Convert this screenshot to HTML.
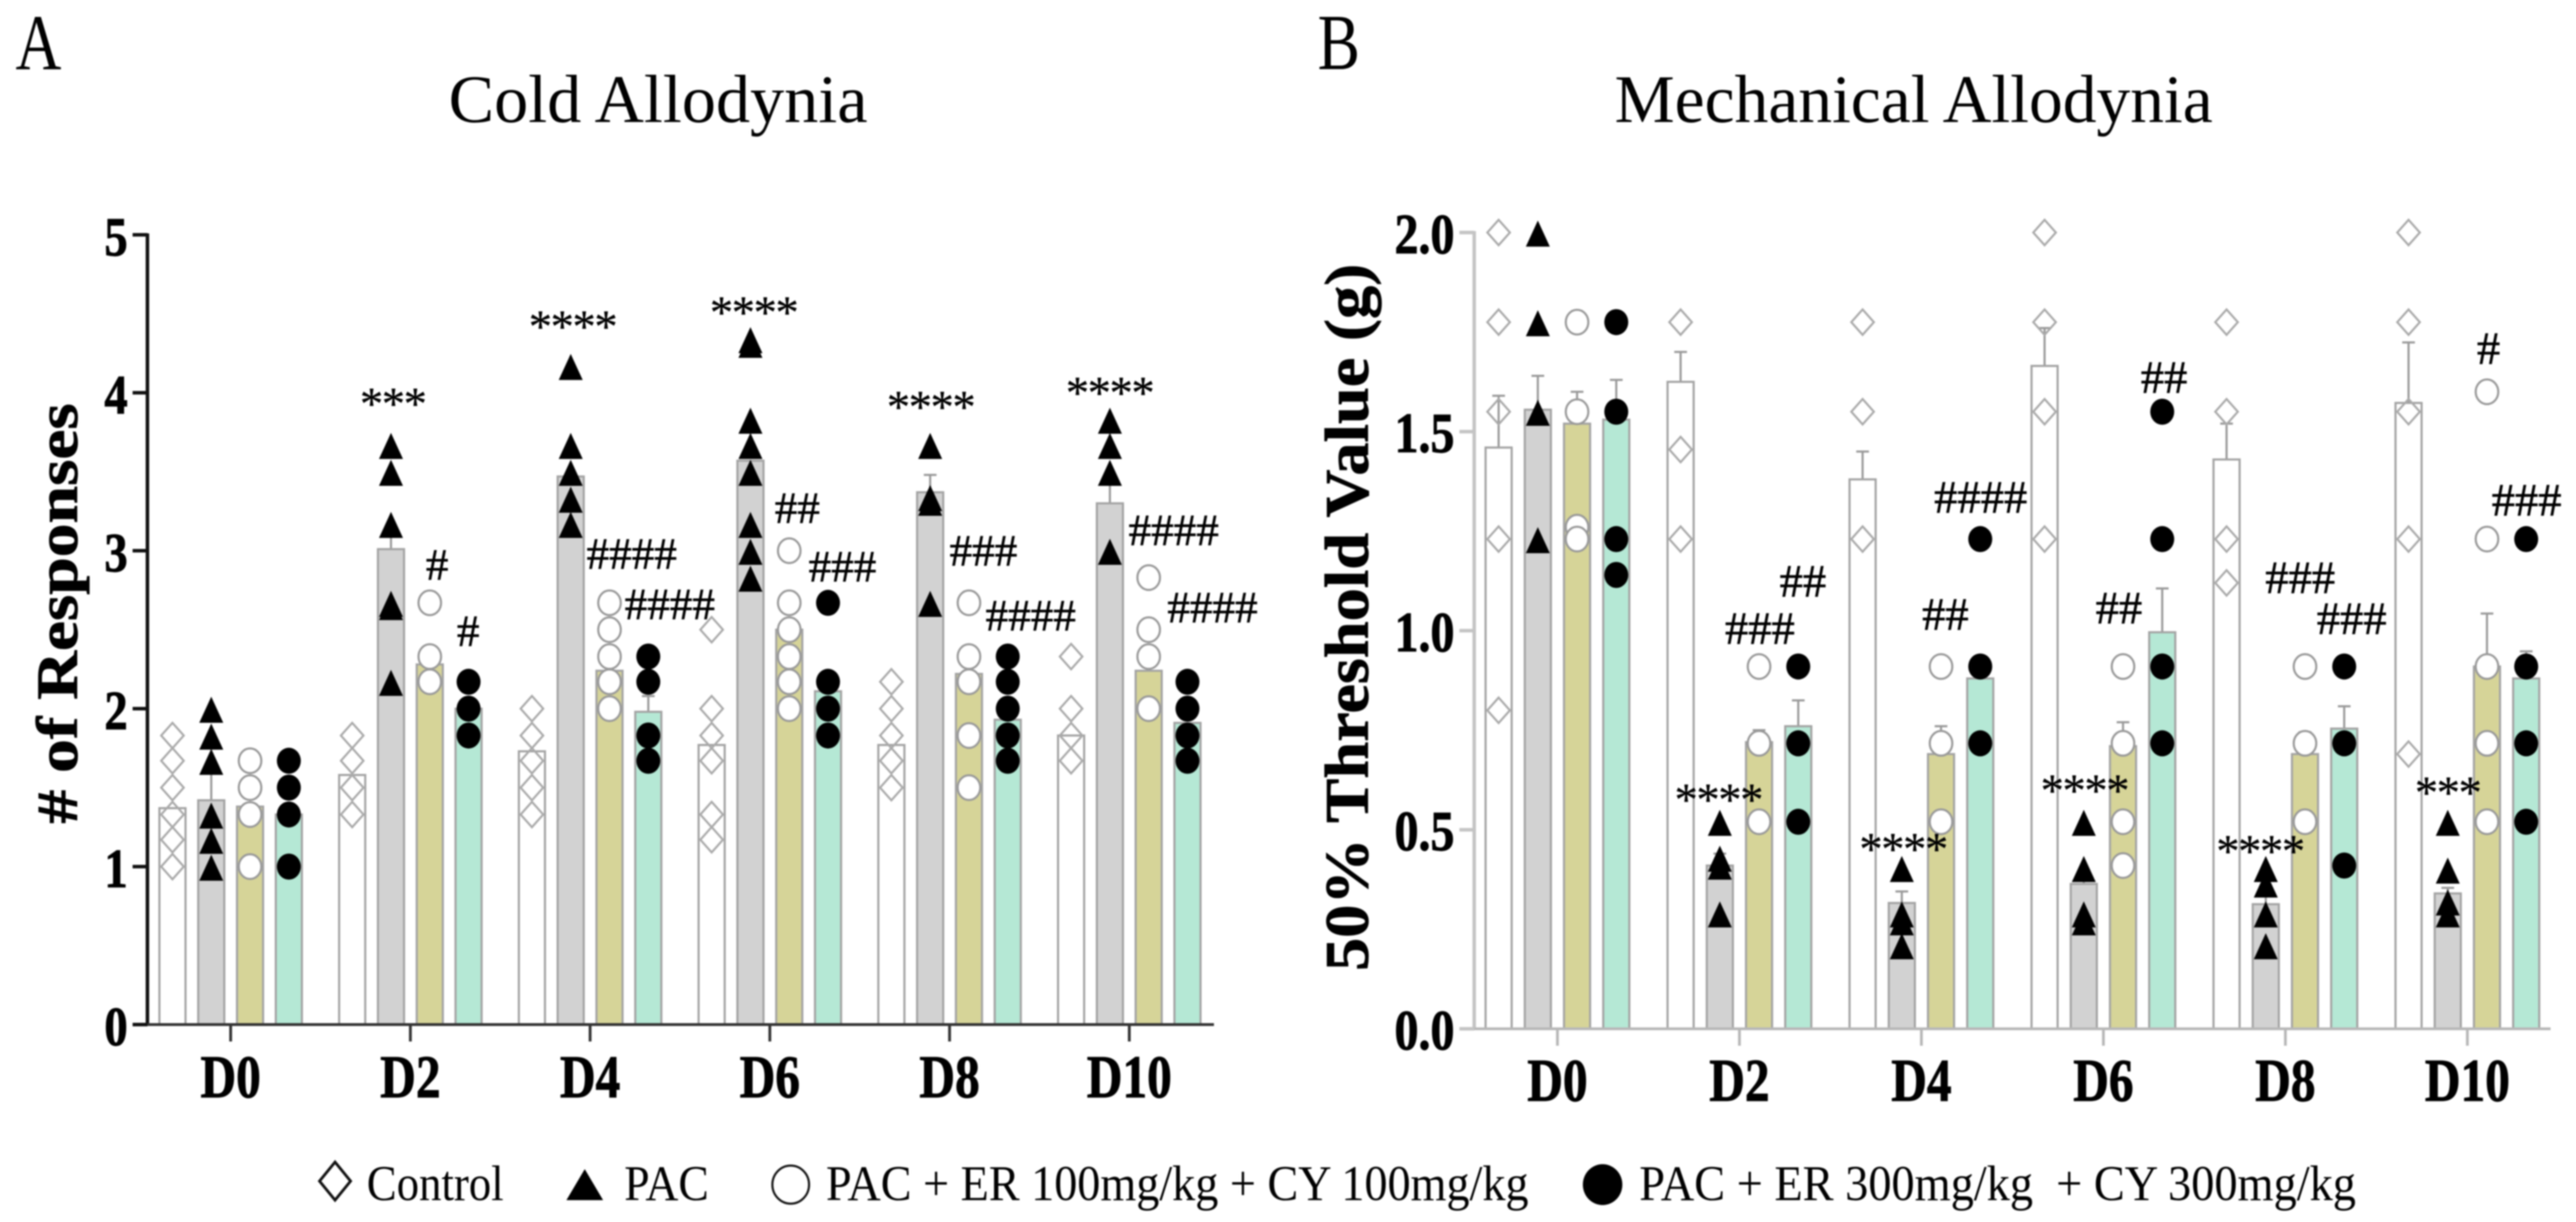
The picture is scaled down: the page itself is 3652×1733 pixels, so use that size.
<!DOCTYPE html>
<html>
<head>
<meta charset="utf-8">
<title>Cold and Mechanical Allodynia</title>
<style>
html,body{margin:0;padding:0;background:#fff;}
svg{display:block;filter:blur(1px);}
text{font-family:"Liberation Serif",serif;fill:#000;white-space:pre;}
</style>
</head>
<body>
<svg id="figure" xmlns="http://www.w3.org/2000/svg" width="3652" height="1733" viewBox="0 0 3652 1733">
  <rect x="0" y="0" width="3652" height="1733" fill="#ffffff"/>
  <text transform="translate(22,98) scale(1,1.25)" font-size="90">A</text>
  <text transform="translate(1868,98) scale(1,1.25)" font-size="90">B</text>
  <text x="636" y="173" font-size="96" textLength="594" lengthAdjust="spacingAndGlyphs">Cold Allodynia</text>
  <text x="2289" y="173" font-size="96" textLength="848" lengthAdjust="spacingAndGlyphs">Mechanical Allodynia</text>
  <text transform="translate(109,1168) rotate(-90)" font-size="83" font-weight="bold" stroke="#000" stroke-width="1" textLength="596" lengthAdjust="spacingAndGlyphs"># of Responses</text>
  <text transform="translate(1939,1377) rotate(-90)" font-size="88" font-weight="bold" stroke="#000" stroke-width="1" textLength="1003" lengthAdjust="spacingAndGlyphs">50% Threshold Value (g)</text>
  <g id="chartA"></g>
  <g id="chartB"></g>
  <g>
    <g>
      <polygon points="475,1648 497,1675 475,1702 453,1675" fill="#fff" stroke="#111" stroke-width="4"/>
      <text transform="translate(520,1702) scale(1,1.12)" font-size="63" textLength="194" lengthAdjust="spacingAndGlyphs">Control</text>
    </g>
    <g>
      <polygon points="829,1658 855,1702 803,1702" fill="#000"/>
      <text transform="translate(885,1702) scale(1,1.12)" font-size="63" textLength="120" lengthAdjust="spacingAndGlyphs">PAC</text>
    </g>
    <g>
      <ellipse cx="1121" cy="1680" rx="26" ry="27" fill="#fff" stroke="#111" stroke-width="3"/>
      <text transform="translate(1171,1702) scale(1,1.12)" font-size="63" textLength="996" lengthAdjust="spacingAndGlyphs">PAC + ER 100mg/kg + CY 100mg/kg</text>
    </g>
    <g>
      <ellipse cx="2272" cy="1680" rx="28" ry="29" fill="#000"/>
      <text transform="translate(2324,1702) scale(1,1.12)" font-size="63" textLength="1016" lengthAdjust="spacingAndGlyphs">PAC + ER 300mg/kg  + CY 300mg/kg</text>
    </g>
  </g>
</svg>
<script>
// ---------- shared categories ----------
var days = ['D0','D2','D4','D6','D8','D10'];
var seriesNames = ['control','pac','er-100','er-300'];
var seriesFills = ['#ffffff','#d2d2d2','#d6d498','#b5e8d5'];

// ---------- Panel A: cold allodynia (# of responses) ----------
var coldTicks = [0,1,2,3,4,5];
var coldTickLabels = ['0','1','2','3','4','5'];
var coldControlMeans = [1.37,1.58,1.73,1.77,1.77,1.83];
var coldPacMeans = [1.42,3.01,3.47,3.57,3.37,3.30];
var coldEr100Means = [1.38,2.28,2.24,2.50,2.22,2.24];
var coldEr300Means = [1.33,2.00,1.98,2.11,1.93,1.91];
var coldControlErr = [1.37,1.58,1.73,1.77,1.77,1.83];
var coldPacErr = [1.62,3.10,3.47,3.57,3.48,3.45];
var coldEr100Err = [1.38,2.28,2.24,2.50,2.22,2.24];
var coldEr300Err = [1.33,2.00,2.08,2.11,1.93,1.91];
var coldControlPts = [[1.83,1.67,1.5,1.33,1.17,1.0],[1.83,1.67,1.5,1.33],[2.0,1.83,1.67,1.5,1.33],[2.5,2.0,1.83,1.67,1.33,1.17],[2.17,2.0,1.83,1.67,1.5],[2.33,2.0,1.83,1.67]];
var coldPacPts = [[2.0,1.83,1.67,1.33,1.17,1.0],[3.67,3.5,3.17,2.67,2.65,2.17],[4.17,3.67,3.5,3.33,3.17],[4.34,4.31,3.83,3.67,3.5,3.17,3.0,2.83],[3.67,3.34,3.31,2.67],[3.83,3.67,3.5,3.0]];
var coldEr100Pts = [[1.67,1.5,1.33,1.0],[2.67,2.33,2.17],[2.67,2.5,2.33,2.17,2.0],[3.0,2.67,2.5,2.33,2.17,2.0],[2.67,2.33,2.17,1.83,1.5],[2.83,2.5,2.33,2.0]];
var coldEr300Pts = [[1.67,1.5,1.33,1.0],[2.17,2.0,1.83],[2.33,2.17,1.83,1.67],[2.67,2.17,2.0,1.83],[2.33,2.17,2.0,1.83,1.67],[2.17,2.0,1.83,1.67]];
var coldNoteGroups = [1,1,1,2,2,2,3,3,3,4,4,4,5,5,5];
var coldNoteShift = [-25,38,82,-25,59,113,-23,39,103,-27,48,115,-28,63,118];
var coldNoteLevels = [3.97,2.91,2.49,4.46,2.98,2.66,4.55,3.27,2.90,3.95,3.0,2.59,4.04,3.13,2.64];
var coldNoteTexts = ['***','#','#','****','####','####','****','##','###','****','###','####','****','####','####'];

// ---------- Panel B: mechanical allodynia (50% threshold) ----------
var mechTicks = [0,0.5,1,1.5,2];
var mechTickLabels = ['0.0','0.5','1.0','1.5','2.0'];
var mechControlMeans = [1.46,1.625,1.38,1.665,1.43,1.572];
var mechPacMeans = [1.555,0.41,0.316,0.364,0.313,0.34];
var mechEr100Means = [1.52,0.72,0.69,0.71,0.69,0.91];
var mechEr300Means = [1.53,0.76,0.88,0.996,0.754,0.88];
var mechControlErr = [1.59,1.70,1.45,1.76,1.52,1.724];
var mechPacErr = [1.64,0.44,0.345,0.38,0.34,0.354];
var mechEr100Err = [1.60,0.75,0.76,0.77,0.745,1.043];
var mechEr300Err = [1.63,0.825,0.90,1.106,0.81,0.948];
var mechControlPts = [[2.0,1.775,1.55,1.23,0.80],[1.775,1.455,1.23],[1.775,1.55,1.23],[2.0,1.775,1.55,1.23],[1.775,1.55,1.23,1.12],[2.0,1.775,1.55,1.23,0.69]];
var mechPacPts = [[2.0,1.775,1.55,1.23],[0.52,0.43,0.41,0.29],[0.404,0.29,0.27,0.21],[0.52,0.404,0.29,0.27],[0.404,0.365,0.29,0.21],[0.52,0.40,0.32,0.29]];
var mechEr100Pts = [[1.775,1.55,1.26,1.23],[0.91,0.717,0.52],[0.91,0.717,0.52],[0.91,0.717,0.52,0.41],[0.91,0.717,0.52],[1.60,1.23,0.91,0.717,0.52]];
var mechEr300Pts = [[1.775,1.55,1.23,1.14],[0.91,0.717,0.52],[1.23,0.91,0.717],[1.55,1.23,0.91,0.717],[0.91,0.717,0.41],[1.23,0.91,0.717,0.52]];
var mechNoteGroups = [1,1,1,2,2,2,3,3,3,4,4,4,5,5,5];
var mechNoteShift = [-30,29,90,-26,34,84,-27,22,86,-36,21,94,-28,30,84];
var mechNoteLevels = [0.592,1.004,1.123,0.468,1.04,1.334,0.615,1.056,1.635,0.462,1.132,1.029,0.609,1.707,1.327];
var mechNoteTexts = ['****','###','##','****','##','####','****','##','##','****','###','###','***','#','###'];

var NS = 'http://www.w3.org/2000/svg';
function mk(parent, tag, attrs, txt) {
  var el = document.createElementNS(NS, tag);
  for (var k in attrs) el.setAttribute(k, attrs[k]);
  if (txt !== undefined) el.textContent = txt;
  parent.appendChild(el);
  return el;
}

function marker(parent, kind, cx, cy) {
  var el;
  if (kind === 0) {
    el = mk(parent, 'polygon', {points: cx+','+(cy-18)+' '+(cx+16)+','+cy+' '+cx+','+(cy+18)+' '+(cx-16)+','+cy, fill: 'none', stroke: '#aaaaaa', 'stroke-width': 3});
    
  } else if (kind === 1) {
    el = mk(parent, 'polygon', {points: cx+','+(cy-17)+' '+(cx+17)+','+(cy+20)+' '+(cx-17)+','+(cy+20), fill: '#000000'});
    
  } else if (kind === 2) {
    el = mk(parent, 'ellipse', {cx: cx, cy: cy, rx: 16, ry: 17.5, fill: '#ffffff', stroke: '#999999', 'stroke-width': 3});
    
  } else {
    el = mk(parent, 'ellipse', {cx: cx, cy: cy, rx: 17, ry: 18.5, fill: '#000000'});
    
  }
  
}

function drawChart(cfg) {
  var root = document.getElementById(cfg.id);
  function yScale(v) { return cfg.y0 - v * cfg.unit; }
  function xGroup(i) { return cfg.x0 + i * cfg.step; }
  function xBar(i, s) { return xGroup(i) + (s - 1.5) * cfg.barStep; }

  // bars + error bars
  cfg.means.forEach(function (series, s) {
    series.forEach(function (m, i) {
      var cx = xBar(i, s);
      var top = yScale(cfg.errs[s][i]);
      if (cfg.errs[s][i] > m) {
        var stem = mk(root, 'path', {d: 'M' + cx + ' ' + yScale(m) + 'V' + top + 'M' + (cx - 9) + ' ' + top + 'H' + (cx + 9), stroke: '#999999', 'stroke-width': 3, fill: 'none'});
        
        
      }
      var bar = mk(root, 'rect', {x: cx - 18.5, y: yScale(m), width: 37, height: cfg.y0 - yScale(m), fill: seriesFills[s], stroke: '#a3a3a3', 'stroke-width': 3});
      
      
    });
  });

  // points
  cfg.points.forEach(function (series, s) {
    series.forEach(function (vals, i) {
      vals.forEach(function (v) { marker(root, s, xBar(i, s), yScale(v)); });
    });
  });

  // axes
  var yAxis = mk(root, 'line', {x1: cfg.axisX, x2: cfg.axisX, y1: yScale(cfg.ticks[cfg.ticks.length - 1]) - 2, y2: cfg.y0 + 2, stroke: cfg.axisColor, 'stroke-width': 5});
  
  
  var xAxis = mk(root, 'line', {x1: cfg.axisX - 21, x2: cfg.xEnd, y1: cfg.y0, y2: cfg.y0, stroke: cfg.xAxisColor, 'stroke-width': 4});
  
  

  cfg.ticks.forEach(function (t, k) {
    var tick = mk(root, 'line', {x1: cfg.axisX - 21, x2: cfg.axisX, y1: yScale(t), y2: yScale(t), stroke: cfg.axisColor, 'stroke-width': 5});
    
    
    var lab = mk(root, 'text', {transform: 'translate(' + cfg.yLabelX + ',' + (yScale(t) + 29) + ') scale(1,1.18)', 'font-size': cfg.tickFont, 'font-weight': 'bold', 'text-anchor': 'end', stroke: '#000', 'stroke-width': 1}, cfg.tickLabels[k]);
    
    
  });

  days.forEach(function (d, i) {
    var tick = mk(root, 'line', {x1: xGroup(i), x2: xGroup(i), y1: cfg.y0, y2: cfg.y0 + 24, stroke: cfg.xAxisColor, 'stroke-width': 4});
    
    
    var lab = mk(root, 'text', {transform: 'translate(' + xGroup(i) + ',' + cfg.xLabelY + ') scale(1,1.23)', 'font-size': cfg.xFont, 'font-weight': 'bold', 'text-anchor': 'middle', stroke: '#000', 'stroke-width': 1}, d);
    
    
  });

  // significance annotations
  cfg.noteTexts.forEach(function (t, n) {
    var star = t.charAt(0) === '*';
    var fs = star ? 66 : cfg.hashFont;
    var baseline = yScale(cfg.noteLevels[n]) + (star ? 31 : 21);
    var note = mk(root, 'text', {x: xGroup(cfg.noteGroups[n]) + cfg.noteShift[n], y: baseline, 'font-size': fs, 'text-anchor': 'middle', 'letter-spacing': star ? -2 : 0, stroke: '#000', 'stroke-width': star ? 0.4 : 0.7}, t);
    
    
  });
}

drawChart({
  id: 'chartA', y0: 1453, unit: 224, x0: 327, step: 254.8, barStep: 55,
  axisX: 209, xEnd: 1721, axisColor: '#111111', xAxisColor: '#333333',
  yLabelX: 181, xLabelY: 1556, tickFont: 66, xFont: 70, hashFont: 64,
  ticks: coldTicks, tickLabels: coldTickLabels,
  means: [coldControlMeans, coldPacMeans, coldEr100Means, coldEr300Means],
  errs: [coldControlErr, coldPacErr, coldEr100Err, coldEr300Err],
  points: [coldControlPts, coldPacPts, coldEr100Pts, coldEr300Pts],
  noteGroups: coldNoteGroups, noteShift: coldNoteShift, noteLevels: coldNoteLevels, noteTexts: coldNoteTexts
});
drawChart({
  id: 'chartB', y0: 1459, unit: 564.6, x0: 2208, step: 258, barStep: 55.6,
  axisX: 2090, xEnd: 3616, axisColor: '#c4c4c4', xAxisColor: '#b8b8b8',
  yLabelX: 2062, xLabelY: 1561, tickFont: 68, xFont: 70, hashFont: 66,
  ticks: mechTicks, tickLabels: mechTickLabels,
  means: [mechControlMeans, mechPacMeans, mechEr100Means, mechEr300Means],
  errs: [mechControlErr, mechPacErr, mechEr100Err, mechEr300Err],
  points: [mechControlPts, mechPacPts, mechEr100Pts, mechEr300Pts],
  noteGroups: mechNoteGroups, noteShift: mechNoteShift, noteLevels: mechNoteLevels, noteTexts: mechNoteTexts
});
</script>
</body>
</html>
